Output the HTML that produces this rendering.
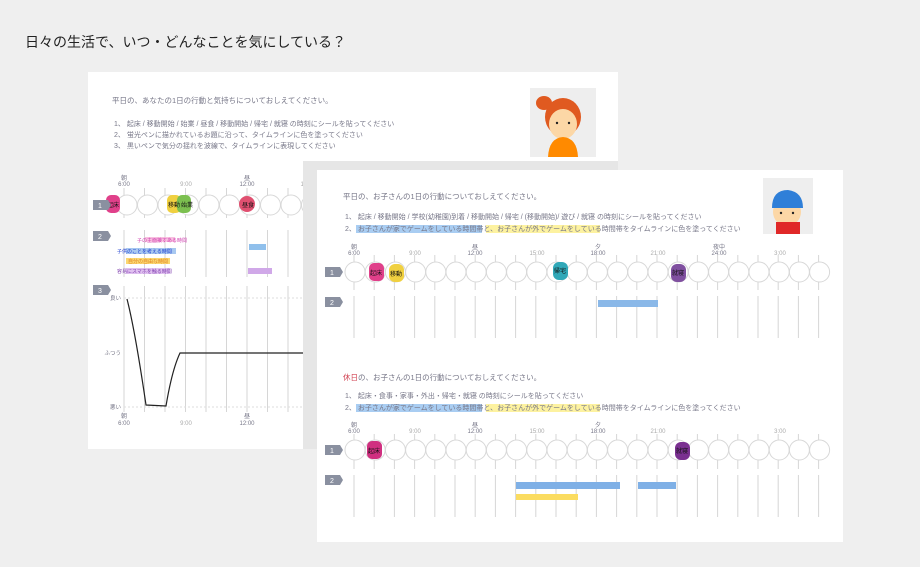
<!DOCTYPE html>
<html><head><meta charset="utf-8"><style>
html,body{margin:0;padding:0;background:#efefef;}
svg{display:block;font-family:"Liberation Sans","Noto Sans CJK JP",sans-serif;}
</style></head><body>
<svg width="920" height="567" viewBox="0 0 920 567" xmlns="http://www.w3.org/2000/svg">
<rect width="920" height="567" fill="#efefef"/>
<text x="25" y="47" font-size="14" fill="#222">日々の生活で、いつ・どんなことを気にしている？</text>

<!-- LEFT PAPER -->
<rect x="88" y="72" width="530" height="377" fill="#fff"/>
<g fill="#778" font-size="7">
<text x="112" y="103" font-size="7.5">平日の、あなたの1日の行動と気持ちについておしえてください。</text>
<text x="114" y="126">1、 起床 / 移動開始 / 始業 / 昼食 / 移動開始 / 帰宅 / 就寝 の時刻にシールを貼ってください</text>
<text x="114" y="137">2、 蛍光ペンに描かれているお題に沿って、タイムラインに色を塗ってください</text>
<text x="114" y="148">3、 黒いペンで気分の揺れを波線で、タイムラインに表現してください</text>
</g>
<rect x="530" y="88" width="66" height="69" fill="#eee"/>
<ellipse cx="544" cy="103" rx="8" ry="7" fill="#e05a20"/>
<ellipse cx="563" cy="117" rx="18" ry="19" fill="#e05a20"/>
<ellipse cx="563" cy="124" rx="14" ry="15" fill="#fcd7a6"/>
<path d="M548 157 Q549 138 563 137 Q577 138 578 157 Z" fill="#ff8a00"/>
<circle cx="557" cy="123" r="1.2" fill="#222"/><circle cx="569" cy="123" r="1.2" fill="#222"/>

<g stroke="#d6d6d6" stroke-width="1">
<line x1="124" y1="188" x2="124" y2="218"/><line x1="144.5" y1="188" x2="144.5" y2="218"/><line x1="165" y1="188" x2="165" y2="218"/><line x1="185.5" y1="188" x2="185.5" y2="218"/><line x1="206" y1="188" x2="206" y2="218"/><line x1="226.5" y1="188" x2="226.5" y2="218"/><line x1="247" y1="188" x2="247" y2="218"/><line x1="267.5" y1="188" x2="267.5" y2="218"/><line x1="288" y1="188" x2="288" y2="218"/><line x1="308.5" y1="188" x2="308.5" y2="218"/>
<line x1="124" y1="230" x2="124" y2="277"/><line x1="144.5" y1="230" x2="144.5" y2="277"/><line x1="165" y1="230" x2="165" y2="277"/><line x1="185.5" y1="230" x2="185.5" y2="277"/><line x1="206" y1="230" x2="206" y2="277"/><line x1="226.5" y1="230" x2="226.5" y2="277"/><line x1="247" y1="230" x2="247" y2="277"/><line x1="267.5" y1="230" x2="267.5" y2="277"/><line x1="288" y1="230" x2="288" y2="277"/><line x1="308.5" y1="230" x2="308.5" y2="277"/>
<line x1="124" y1="286" x2="124" y2="412"/><line x1="144.5" y1="286" x2="144.5" y2="412"/><line x1="165" y1="286" x2="165" y2="412"/><line x1="185.5" y1="286" x2="185.5" y2="412"/><line x1="206" y1="286" x2="206" y2="412"/><line x1="226.5" y1="286" x2="226.5" y2="412"/><line x1="247" y1="286" x2="247" y2="412"/><line x1="267.5" y1="286" x2="267.5" y2="412"/><line x1="288" y1="286" x2="288" y2="412"/><line x1="308.5" y1="286" x2="308.5" y2="412"/>
</g>
<g fill="#fff" stroke="#d8d8d8" stroke-width="1">
<circle cx="127" cy="205" r="10"/><circle cx="147.5" cy="205" r="10"/><circle cx="168" cy="205" r="10"/><circle cx="188.5" cy="205" r="10"/><circle cx="209" cy="205" r="10"/><circle cx="229.5" cy="205" r="10"/><circle cx="250" cy="205" r="10"/><circle cx="270.5" cy="205" r="10"/><circle cx="291" cy="205" r="10"/><circle cx="311.5" cy="205" r="10"/>
</g>
<g fill="#778" font-size="6" text-anchor="middle">
<text x="124" y="180">朝</text><text x="124" y="186">6:00</text>
<text x="186" y="186" fill="#aaa">9:00</text>
<text x="247" y="180">昼</text><text x="247" y="186">12:00</text>
<text x="308" y="186" fill="#aaa">15:00</text>
<text x="124" y="418">朝</text><text x="124" y="425">6:00</text>
<text x="186" y="425" fill="#aaa">9:00</text>
<text x="247" y="418">昼</text><text x="247" y="425">12:00</text>
</g>
<rect x="106" y="195" width="14" height="18" rx="5" fill="#e0408a"/>
<rect x="167" y="195" width="14" height="18" rx="5" fill="#f0d040"/>
<rect x="177" y="195" width="14" height="18" rx="5" fill="#7cc050"/>
<circle cx="247" cy="204" r="8" fill="#e05070"/>
<g font-size="6" fill="#111"><text x="107" y="207">起床</text><text x="168" y="207">移動</text><text x="181" y="207">始業</text><text x="242" y="207">昼食</text></g>
<g fill="#8a90a0"><path d="M93 200h15l3 5-3 5h-15z"/><path d="M93 231h15l3 5-3 5h-15z"/><path d="M93 285h15l3 5-3 5h-15z"/></g>
<g fill="#fff" font-size="7"><text x="98" y="208">1</text><text x="98" y="239">2</text><text x="98" y="293">3</text></g>
<rect x="145" y="237" width="30" height="5" fill="#f8c0e0"/><text x="137" y="242" font-size="5" fill="#d040b0">子の主面接すある時間</text>
<rect x="126" y="248" width="50" height="6" fill="#a8c8f0"/><text x="117" y="253" font-size="5" fill="#2040d0">子供のことを考える時間</text>
<rect x="126" y="258" width="44" height="6" fill="#fbd870"/><text x="128" y="263" font-size="5" fill="#e08020">自分の自由な時間</text>
<rect x="126" y="268" width="44" height="6" fill="#e0c0f0"/><text x="117" y="273" font-size="5" fill="#8040b0">容易にスマホを触る時間</text>
<rect x="249" y="244" width="17" height="6" fill="#90c0ec"/>
<rect x="248" y="268" width="24" height="6" fill="#d0a8e8"/>
<g stroke="#ddd" stroke-dasharray="2 2"><line x1="124" y1="298" x2="318" y2="298"/><line x1="124" y1="407" x2="318" y2="407"/></g>
<g fill="#778" font-size="5.5" text-anchor="end"><text x="121" y="300">良い</text><text x="121" y="355">ふつう</text><text x="121" y="409">悪い</text></g>
<path d="M127 299 Q135 330 146 405 L166 406 Q172 370 180 353 L318 353" fill="none" stroke="#222" stroke-width="1.2"/>

<!-- RIGHT PAPER -->
<rect x="303" y="161" width="315" height="288" fill="#e6e6e6"/>
<rect x="317" y="170" width="526" height="372" fill="#fff"/>
<g fill="#778" font-size="7">
<text x="343" y="199" font-size="7.5">平日の、お子さんの1日の行動についておしえてください。</text>
<text x="345" y="219">1、 起床 / 移動開始 / 学校(幼稚園)到着 / 移動開始 / 帰宅 / (移動開始)/ 遊び / 就寝 の時刻にシールを貼ってください</text>
<rect x="356" y="225" width="126" height="8" fill="#a9cdf2"/><rect x="486" y="225" width="114" height="8" fill="#fdf2a0"/>
<text x="345" y="231">2、 お子さんが家でゲームをしている時間帯と、お子さんが外でゲームをしている時間帯をタイムラインに色を塗ってください</text>
<text x="343" y="380" font-size="7.5"><tspan fill="#d04050">休日</tspan>の、お子さんの1日の行動についておしえてください。</text>
<text x="345" y="398">1、 起床・食事・家事・外出・帰宅・就寝 の時刻にシールを貼ってください</text>
<rect x="356" y="404" width="126" height="8" fill="#a9cdf2"/><rect x="486" y="404" width="114" height="8" fill="#fdf2a0"/>
<text x="345" y="410">2、 お子さんが家でゲームをしている時間帯と、お子さんが外でゲームをしている時間帯をタイムラインに色を塗ってください</text>
</g>
<rect x="763" y="178" width="50" height="56" fill="#eee"/>
<ellipse cx="787" cy="212" rx="14" ry="14" fill="#fcd7a6"/>
<path d="M772 208 Q772 190 788 190 Q803 192 803 208 Z" fill="#2f7fd8"/>
<rect x="776" y="222" width="24" height="12" fill="#e02828"/>
<circle cx="781" cy="213" r="1.2" fill="#222"/><circle cx="793" cy="213" r="1.2" fill="#222"/>

<g stroke="#d6d6d6" stroke-width="1">
<path d="M354 255v35M374.2 255v35M394.4 255v35M414.6 255v35M434.8 255v35M455 255v35M475.2 255v35M495.4 255v35M515.6 255v35M535.8 255v35M556 255v35M576.2 255v35M596.4 255v35M616.6 255v35M636.8 255v35M657 255v35M677.2 255v35M697.4 255v35M717.6 255v35M737.8 255v35M758 255v35M778.2 255v35M798.4 255v35M818.6 255v35"/>
<path d="M354 296v42M374.2 296v42M394.4 296v42M414.6 296v42M434.8 296v42M455 296v42M475.2 296v42M495.4 296v42M515.6 296v42M535.8 296v42M556 296v42M576.2 296v42M596.4 296v42M616.6 296v42M636.8 296v42M657 296v42M677.2 296v42M697.4 296v42M717.6 296v42M737.8 296v42M758 296v42M778.2 296v42M798.4 296v42M818.6 296v42"/>
<path d="M354 434v35M374.2 434v35M394.4 434v35M414.6 434v35M434.8 434v35M455 434v35M475.2 434v35M495.4 434v35M515.6 434v35M535.8 434v35M556 434v35M576.2 434v35M596.4 434v35M616.6 434v35M636.8 434v35M657 434v35M677.2 434v35M697.4 434v35M717.6 434v35M737.8 434v35M758 434v35M778.2 434v35M798.4 434v35M818.6 434v35"/>
<path d="M354 475v42M374.2 475v42M394.4 475v42M414.6 475v42M434.8 475v42M455 475v42M475.2 475v42M495.4 475v42M515.6 475v42M535.8 475v42M556 475v42M576.2 475v42M596.4 475v42M616.6 475v42M636.8 475v42M657 475v42M677.2 475v42M697.4 475v42M717.6 475v42M737.8 475v42M758 475v42M778.2 475v42M798.4 475v42M818.6 475v42"/>
</g>
<g fill="#fff" stroke="#d8d8d8" stroke-width="1">
<g id="row"><circle cx="355" cy="272" r="10"/><circle cx="375.2" cy="272" r="10"/><circle cx="395.4" cy="272" r="10"/><circle cx="415.6" cy="272" r="10"/><circle cx="435.8" cy="272" r="10"/><circle cx="456" cy="272" r="10"/><circle cx="476.2" cy="272" r="10"/><circle cx="496.4" cy="272" r="10"/><circle cx="516.6" cy="272" r="10"/><circle cx="536.8" cy="272" r="10"/><circle cx="557" cy="272" r="10"/><circle cx="577.2" cy="272" r="10"/><circle cx="597.4" cy="272" r="10"/><circle cx="617.6" cy="272" r="10"/><circle cx="637.8" cy="272" r="10"/><circle cx="658" cy="272" r="10"/><circle cx="678.2" cy="272" r="10"/><circle cx="698.4" cy="272" r="10"/><circle cx="718.6" cy="272" r="10"/><circle cx="738.8" cy="272" r="10"/><circle cx="759" cy="272" r="10"/><circle cx="779.2" cy="272" r="10"/><circle cx="799.4" cy="272" r="10"/><circle cx="819.6" cy="272" r="10"/></g>
<use href="#row" y="178"/>
</g>
<g fill="#778" font-size="6" text-anchor="middle">
<text x="354" y="249">朝</text><text x="354" y="255">6:00</text>
<text x="415" y="255" fill="#aaa">9:00</text>
<text x="475" y="249">昼</text><text x="475" y="255">12:00</text>
<text x="537" y="255" fill="#aaa">15:00</text>
<text x="598" y="249">夕</text><text x="598" y="255">18:00</text>
<text x="658" y="255" fill="#aaa">21:00</text>
<text x="719" y="249">夜中</text><text x="719" y="255">24:00</text>
<text x="780" y="255" fill="#aaa">3:00</text>
<text x="354" y="427">朝</text><text x="354" y="433">6:00</text>
<text x="415" y="433" fill="#aaa">9:00</text>
<text x="475" y="427">昼</text><text x="475" y="433">12:00</text>
<text x="537" y="433" fill="#aaa">15:00</text>
<text x="598" y="427">夕</text><text x="598" y="433">18:00</text>
<text x="658" y="433" fill="#aaa">21:00</text>
<text x="780" y="433" fill="#aaa">3:00</text>
</g>
<g fill="#8a90a0"><path d="M325 267h15l3 5-3 5h-15z"/><path d="M325 297h15l3 5-3 5h-15z"/><path d="M325 445h15l3 5-3 5h-15z"/><path d="M325 475h15l3 5-3 5h-15z"/></g>
<g fill="#fff" font-size="7"><text x="330" y="275">1</text><text x="330" y="305">2</text><text x="330" y="453">1</text><text x="330" y="483">2</text></g>
<rect x="369" y="263" width="15" height="18" rx="5" fill="#e0408a"/>
<rect x="389" y="264" width="15" height="18" rx="6" fill="#f0d040"/>
<rect x="553" y="262" width="15" height="18" rx="6" fill="#30a8b8"/>
<rect x="671" y="264" width="15" height="18" rx="6" fill="#8050a0"/>
<rect x="367" y="441" width="15" height="18" rx="5" fill="#d03080"/>
<rect x="675" y="442" width="15" height="18" rx="6" fill="#7a3090"/>
<g font-size="6" fill="#111"><text x="370" y="275">起床</text><text x="390" y="276">移動</text><text x="554" y="273">帰宅</text><text x="672" y="275">就寝</text><text x="368" y="453">起床</text><text x="676" y="453">就寝</text></g>
<rect x="598" y="300" width="60" height="7" fill="#8ab8e8"/>
<rect x="516" y="482" width="104" height="7" fill="#7fb0e6"/>
<rect x="516" y="494" width="62" height="6" fill="#fbdc60"/>
<rect x="638" y="482" width="38" height="7" fill="#7fb0e6"/>
</svg>
</body></html>
